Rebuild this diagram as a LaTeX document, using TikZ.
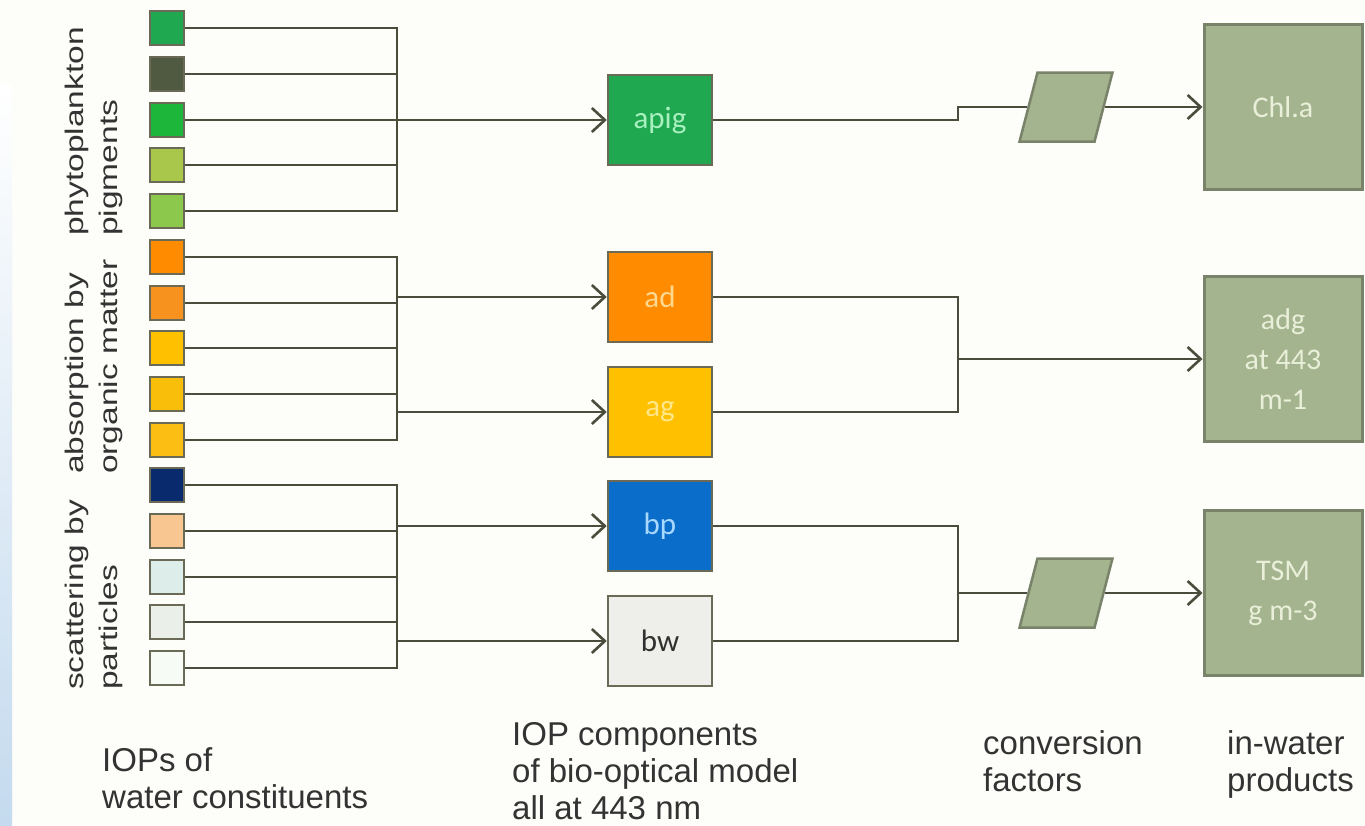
\documentclass[tikz,border=0pt]{standalone}
\usepackage{fontspec}
\setmainfont{Liberation Sans}
\newfontfamily\boxfont{Carlito}
\usetikzlibrary{calc}
\usetikzlibrary{arrows.meta}
\definecolor{wirecol}{HTML}{4A4D3C}
\definecolor{edgecol}{HTML}{6A6A56}
\definecolor{sage}{HTML}{A4B48E}
\definecolor{sageedge}{HTML}{78836A}
\definecolor{prodtext}{HTML}{E9EFD9}
\definecolor{captext}{HTML}{333333}
\definecolor{paper}{HTML}{FDFDF9}
% swatch colours
\definecolor{cA}{HTML}{1FA84F}
\definecolor{cB}{HTML}{505A40}
\definecolor{cC}{HTML}{1DB53A}
\definecolor{cD}{HTML}{A9C74A}
\definecolor{cE}{HTML}{8CC84B}
\definecolor{cF}{HTML}{FF8C00}
\definecolor{cG}{HTML}{F7921E}
\definecolor{cH}{HTML}{FFC000}
\definecolor{cI}{HTML}{F9BE0A}
\definecolor{cJ}{HTML}{FCBE12}
\definecolor{cK}{HTML}{0A2A6E}
\definecolor{cL}{HTML}{F8C690}
\definecolor{cM}{HTML}{DDEEEA}
\definecolor{cN}{HTML}{EBEFEA}
\definecolor{cO}{HTML}{F7FBF6}
% box colours
\definecolor{apigfill}{HTML}{1FA84F}
\definecolor{apigtext}{HTML}{A8F0C0}
\definecolor{adfill}{HTML}{FF8C00}
\definecolor{adtext}{HTML}{FFD890}
\definecolor{agfill}{HTML}{FFC000}
\definecolor{agtext}{HTML}{FFE88A}
\definecolor{bpfill}{HTML}{0A6DC9}
\definecolor{bptext}{HTML}{A8D8FF}
\definecolor{bwfill}{HTML}{EEEEEA}
\definecolor{bwtext}{HTML}{303030}
\definecolor{stripblue}{HTML}{C4DAEE}
\newcommand{\swatch}[3]{\node[swatch, fill=#3] (#1) at (167,#2) {};}
\newcommand{\sidelabel}[3]{\node[sidetext] at (#1,#2) {#3};}
\tikzset{
  swatch/.style={draw=edgecol, line width=2.5pt, minimum width=34pt, minimum height=34pt, inner sep=0pt},
  iopbox/.style={draw=edgecol, line width=2.5pt, minimum width=104pt, minimum height=90pt, inner sep=0pt, font=\boxfont\fontsize{31}{34}\selectfont},
  prodbox/.style={fill=sage, draw=sageedge, line width=3pt, minimum width=158pt, minimum height=165pt, inner sep=0pt, align=center, text=prodtext, font=\boxfont\fontsize{30}{40}\selectfont},
  factor/.style={fill=sage, draw=sageedge, line width=2.5pt, minimum width=75pt, minimum height=69pt, inner sep=0pt, xslant=0.26},
  sidetext/.style={rotate=90, yscale=0.76, anchor=base west, inner sep=0pt, text=captext, font=\fontsize{33.5}{36}\selectfont},
  caption/.style={anchor=north west, align=left, inner sep=0pt, text=captext, font=\fontsize{33}{37}\selectfont},
  wire/.style={draw=wirecol, line width=1.8pt},
  feed/.style={draw=wirecol, line width=2.6pt, -{Straight Barb[length=13pt, width=24pt]}}
}
\begin{document}
\begin{tikzpicture}[x=1pt, y=-1pt]
    \useasboundingbox (0,0) rectangle (1365,825);
    \fill[paper] (0,0) rectangle (1365,825);
    \shade[top color=white, bottom color=stripblue] (0,85) rectangle (12,825);

    % water constituents
    \swatch{s1}{28}{cA}
    \swatch{s2}{74}{cB}
    \swatch{s3}{120}{cC}
    \swatch{s4}{165}{cD}
    \swatch{s5}{211}{cE}
    \swatch{s6}{257}{cF}
    \swatch{s7}{303}{cG}
    \swatch{s8}{348}{cH}
    \swatch{s9}{394}{cI}
    \swatch{s10}{440}{cJ}
    \swatch{s11}{485}{cK}
    \swatch{s12}{531}{cL}
    \swatch{s13}{577}{cM}
    \swatch{s14}{622}{cN}
    \swatch{s15}{668}{cO}

    \sidelabel{83}{236}{phytoplankton}
    \sidelabel{117}{236}{pigments}
    \sidelabel{83}{474}{absorption by}
    \sidelabel{117}{474}{organic matter}
    \sidelabel{83}{690}{scattering by}
    \sidelabel{117}{690}{particles}

    % IOP components
    \node[iopbox, fill=apigfill, text=apigtext] (apig) at (660,120) {apig};
    \node[iopbox, fill=adfill, text=adtext] (ad) at (660,297) {ad};
    \node[iopbox, fill=agfill, text=agtext] (ag) at (660,412) {ag};
    \node[iopbox, fill=bpfill, text=bptext] (bp) at (660,526) {bp};
    \node[iopbox, fill=bwfill, text=bwtext] (bw) at (660,641) {bw};

    % factors and products
    \node[factor] (f1) at (1066,107) {};
    \node[factor] (f2) at (1066,593) {};
    \node[prodbox] (chla) at (1283,107) {Chl.a};
    \node[prodbox] (adg) at (1283,359) {adg\\at 443\\m-1};
    \node[prodbox] (tsm) at (1283,593) {TSM\\g m-3};

    \coordinate (bus) at (397,0);
    \coordinate (merge) at (958,0);

    % buses on the left
    \draw[wire] (s1.east) -- (s1.east -| bus) -- (s5.east -| bus) -- (s5.east);
    \draw[wire] (s6.east) -- (s6.east -| bus) -- (s10.east -| bus) -- (s10.east);
    \draw[wire] (s11.east) -- (s11.east -| bus) -- (s15.east -| bus) -- (s15.east);
    \foreach \i in {2,3,4,7,8,9,12,13,14}
        \draw[wire] (s\i.east) -- (s\i.east -| bus);
    \draw[feed] (apig.west -| bus) -- (apig.west);
    \draw[feed] (ad.west -| bus) -- (ad.west);
    \draw[feed] (ag.west -| bus) -- (ag.west);
    \draw[feed] (bp.west -| bus) -- (bp.west);
    \draw[feed] (bw.west -| bus) -- (bw.west);

    % towards the products
    \draw[wire] (apig.east) -- (apig.east -| merge) |- (f1.west);
    \draw[feed] (f1.east) -- (chla.west);
    \draw[wire] (ad.east) -- (ad.east -| merge) -- (ag.east -| merge) -- (ag.east);
    \draw[feed] (adg.west -| merge) -- (adg.west);
    \draw[wire] (bp.east) -- (bp.east -| merge) -- (bw.east -| merge) -- (bw.east);
    \draw[wire] (f2.west -| merge) -- (f2.west);
    \draw[feed] (f2.east) -- (tsm.west);

    % captions
    \node[caption] (capa) at (102,747) {IOPs of\\water constituents};
    \node[caption] (capb) at (512,722) {IOP components\\of bio-optical model\\all at 443 nm};
    \node[caption] (capc) at (983,730) {conversion\\factors};
    \node[caption] (capd) at (1227,730) {in-water\\products};
\end{tikzpicture}
\end{document}
